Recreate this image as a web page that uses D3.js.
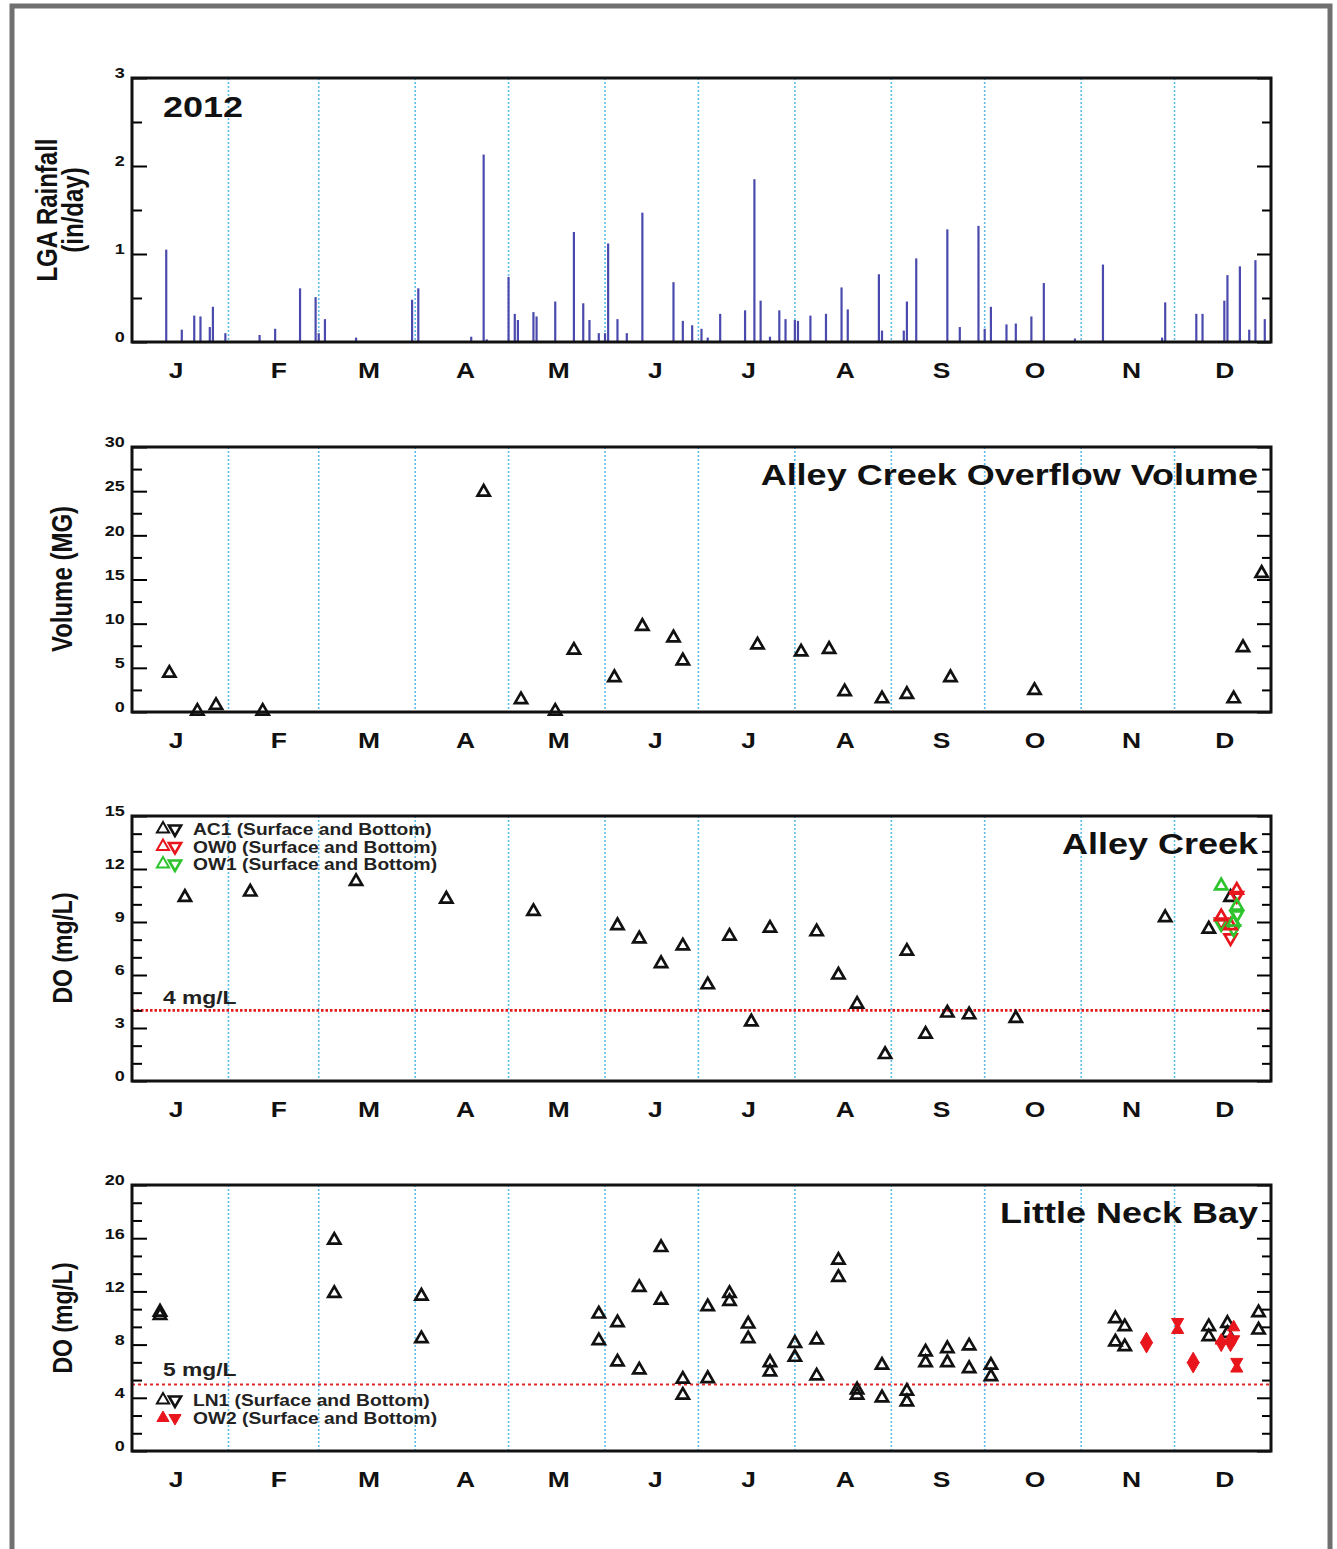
<!DOCTYPE html>
<html>
<head>
<meta charset="utf-8">
<script src="https://cdn.jsdelivr.net/npm/d3@7"></script>
<style>
body { margin: 0; background: #fff; }
text { font-family: "Liberation Sans", Arial, sans-serif; }
</style>
</head>
<body>
<div id="chart"></div>
<script>
// ---- data (day = day of year 2012, 0 = Jan 1) ----
const monthLetters = ["J", "F", "M", "A", "M", "J", "J", "A", "S", "O", "N", "D"]

const rainDay = [11, 16, 20, 22, 25, 26, 30, 41, 46, 54, 59, 60, 62, 72, 90, 92, 109, 113, 114,
  121, 123, 124, 129, 130, 136, 142, 145, 147, 150, 152, 153, 156, 159, 164, 174, 177, 180, 183,
  185, 189, 197, 200, 202, 205, 208, 210, 213, 214, 218, 223, 228, 230, 240, 241, 248, 249, 252,
  262, 266, 272, 274, 276, 281, 284, 289, 293, 303, 312, 331, 332, 342, 344, 351, 352, 356, 359,
  361, 364]
const rainInches = [1.05, 0.14, 0.30, 0.29, 0.17, 0.40, 0.10, 0.08, 0.15, 0.61, 0.51, 0.10, 0.26,
  0.05, 0.48, 0.61, 0.06, 2.13, 0.03, 0.74, 0.32, 0.25, 0.34, 0.29, 0.46, 1.25, 0.44, 0.25, 0.10,
  0.10, 1.12, 0.26, 0.10, 1.47, 0.68, 0.24, 0.19, 0.15, 0.05, 0.32, 0.36, 1.85, 0.47, 0.06, 0.36,
  0.26, 0.25, 0.24, 0.30, 0.32, 0.62, 0.37, 0.77, 0.13, 0.13, 0.46, 0.95, 1.28, 0.17, 1.32, 0.15,
  0.40, 0.20, 0.21, 0.29, 0.67, 0.04, 0.88, 0.05, 0.45, 0.32, 0.32, 0.47, 0.76, 0.86, 0.14, 0.93,
  0.26]

const overflowDay = [12, 21, 27, 42, 113, 125, 136, 142, 155, 164, 174, 177, 201, 215, 224, 229,
  241, 249, 263, 290, 354, 357, 363]
const overflowMG = [4.4, 0.1, 0.75, 0.1, 24.9, 1.4, 0.1, 7.0, 3.9, 9.7, 8.4, 5.8, 7.6, 6.8, 7.1,
  2.3, 1.5, 2.0, 3.9, 2.45, 1.5, 7.3, 15.7]

const ac1Day = [17, 38, 72, 101, 129, 156, 163, 170, 177, 185, 192, 199, 205, 220, 227, 233, 242,
  249, 255, 262, 269, 284, 332, 346, 353]
const ac1DO = [10.4, 10.7, 11.3, 10.3, 9.6, 8.8, 8.05, 6.65, 7.65, 5.45, 8.2, 3.35, 8.65, 8.45,
  6.0, 4.35, 1.5, 7.35, 2.65, 3.85, 3.75, 3.55, 9.25, 8.6, 10.4]

const ow0Day = [350, 353, 355]
const ow0Surface = [9.3, 8.8, 10.8]
const ow0Bottom = [9.0, 8.1, 10.5]
const ow1Day = [350, 354, 355]
const ow1Surface = [11.05, 9.0, 9.9]
const ow1Bottom = [8.9, 8.6, 9.4]

const ln1Day = [9, 65, 93, 150, 156, 163, 170, 177, 185, 192, 198, 205, 213, 220, 227, 233, 241,
  249, 255, 262, 269, 276, 316, 319, 346, 352, 362]
const ln1Surface = [10.45, 15.85, 11.65, 10.3, 9.65, 12.3, 15.3, 5.4, 10.85, 11.85, 9.55, 6.65,
  8.1, 8.35, 14.35, 4.6, 6.45, 4.5, 7.45, 7.7, 7.9, 6.45, 9.95, 9.35, 9.35, 9.6, 10.4]
const ln1Bottom = [10.2, 11.85, 8.45, 8.3, 6.7, 6.1, 11.35, 4.2, 5.45, 11.25, 8.45, 5.95, 7.05,
  5.65, 13.05, 4.2, 4.0, 3.7, 6.65, 6.65, 6.2, 5.6, 8.2, 7.85, 8.6, 8.85, 9.1]

const ow2Day = [326, 336, 341, 350, 353, 354, 355]
const ow2Surface = [8.4, 9.1, 6.9, 8.3, 8.5, 9.3, 6.2]
const ow2Bottom = [7.9, 9.7, 6.4, 8.0, 8.0, 8.4, 6.7]

const rainTicks = [0, 1, 2, 3]
const volumeTicks = [0, 5, 10, 15, 20, 25, 30]
const acTicks = [0, 3, 6, 9, 12, 15]
const lnbTicks = [0, 4, 8, 12, 16, 20]

const acLegendLabels = ["AC1 (Surface and Bottom)", "OW0 (Surface and Bottom)", "OW1 (Surface and Bottom)"]
const acLegendColors = ["#111", "#e8161c", "#2ec42e"]
const lnbLegendLabels = ["LN1 (Surface and Bottom)", "OW2 (Surface and Bottom)"]
const lnbLegendColors = ["#111", "#e8161c"]

// ---- layout ----
const width = 1337
const height = 1549
const plotLeft = 132
const plotRight = 1271
const stretch = "scale(1.2,1)"

const svg = d3.select("#chart")
  .append("svg")
    .attr("width", width)
    .attr("height", height)

svg.append("rect")
  .attr("x", 12).attr("y", 6)
  .attr("width", 1318).attr("height", 1600)
  .attr("fill", "none").attr("stroke", "#707070").attr("stroke-width", 5)

const yearStart = new Date(2012, 0, 1)
const yearEnd = new Date(2013, 0, 1)
const day = d => d3.timeDay.offset(yearStart, d)
const x = d3.scaleTime().domain([yearStart, yearEnd]).range([plotLeft, plotRight])
const monthStarts = d3.timeMonth.range(yearStart, yearEnd)
// label sits near the middle of each month
const monthMids = monthStarts.map((m, i) => d3.timeHour.offset(m, i === 0 ? 14 * 24 : 16 * 24))

function makePanel(top, bottom, max, ticks, minorStep, title) {
  const y = d3.scaleLinear().domain([0, max]).range([bottom, top])
  const grid = svg.append("g")
  const marks = svg.append("g")
  const axes = svg.append("g")

  grid.selectAll("line").data(monthStarts.slice(1)).join("line")
    .attr("x1", d => x(d)).attr("x2", d => x(d))
    .attr("y1", top).attr("y2", bottom)
    .attr("stroke", "#5fbde9").attr("stroke-width", 1.6).attr("stroke-dasharray", "2,2")

  const minor = d3.range(0, max + 0.001, minorStep).filter(v => !ticks.some(t => Math.abs(t - v) < 1e-6))

  const styleAxis = g => {
    g.select(".domain").remove()
    g.selectAll("line").attr("stroke", "#000").attr("stroke-width", 2)
  }
  axes.append("g").attr("transform", `translate(${plotLeft},0)`)
    .call(d3.axisLeft(y).tickValues(minor).tickSize(-10).tickFormat(""))
    .call(styleAxis)
  axes.append("g").attr("transform", `translate(${plotRight},0)`)
    .call(d3.axisRight(y).tickValues(minor).tickSize(-9).tickFormat(""))
    .call(styleAxis)
  axes.append("g").attr("transform", `translate(${plotRight},0)`)
    .call(d3.axisRight(y).tickValues(ticks).tickSize(-14).tickFormat(""))
    .call(styleAxis)
  axes.append("g").attr("transform", `translate(${plotLeft},0)`)
    .call(d3.axisLeft(y).tickValues(ticks).tickSize(-15).tickPadding(6).tickFormat(d3.format("d")))
    .call(styleAxis)
    .call(g => g.selectAll("text")
      .attr("font-family", "Liberation Sans, Arial, sans-serif")
      .attr("font-size", 15).attr("font-weight", "bold").attr("fill", "#111")
      .attr("transform", "translate(0,-5) " + stretch))

  axes.append("rect")
    .attr("x", plotLeft).attr("y", top)
    .attr("width", plotRight - plotLeft).attr("height", bottom - top)
    .attr("fill", "none").attr("stroke", "#111").attr("stroke-width", 3)

  axes.append("g").attr("transform", `translate(0,${bottom})`)
    .call(d3.axisBottom(x).tickValues(monthMids).tickSize(0).tickFormat((d, i) => monthLetters[i]))
    .call(g => g.select(".domain").remove())
    .call(g => g.selectAll("text")
      .attr("y", 36).attr("dy", null)
      .attr("font-family", "Liberation Sans, Arial, sans-serif")
      .attr("font-size", 22).attr("font-weight", "bold").attr("fill", "#111")
      .attr("transform", stretch))

  if (title) {
    axes.append("text")
      .attr("transform", `translate(1258,${top + 38}) ${stretch}`)
      .attr("text-anchor", "end")
      .attr("font-size", 30).attr("font-weight", "bold").attr("fill", "#111")
      .text(title)
  }
  return { y, marks, axes, top, bottom }
}

function yTitle(lines, xs, cy, size) {
  lines.forEach((t, i) => {
    svg.append("text")
      .attr("transform", `translate(${xs[i]},${cy}) ${stretch} rotate(-90)`)
      .attr("text-anchor", "middle").attr("dominant-baseline", "central")
      .attr("font-size", size).attr("font-weight", "bold").attr("fill", "#111")
      .text(t)
  })
}

const tri = d3.symbol().type(d3.symbolTriangle).size(64)

function triangles(layer, y, days, values, color, filled, down) {
  layer.append("g").selectAll("path").data(days).join("path")
    .attr("d", tri)
    .attr("transform", (d, i) => `translate(${x(day(d))},${y(values[i])})` + (down ? " rotate(180)" : ""))
    .attr("fill", filled ? color : "none")
    .attr("stroke", color).attr("stroke-width", filled ? 1 : 2.7)
}

function legend(layer, labels, colors, x0, y0, gap, filled) {
  labels.forEach((t, i) => {
    const yy = y0 + i * gap
    layer.append("path").attr("d", tri)
      .attr("transform", `translate(${x0},${yy})`)
      .attr("fill", filled[i] ? colors[i] : "none").attr("stroke", colors[i]).attr("stroke-width", filled[i] ? 1 : 2)
    layer.append("path").attr("d", tri)
      .attr("transform", `translate(${x0 + 12},${yy}) rotate(180)`)
      .attr("fill", filled[i] ? colors[i] : "none").attr("stroke", colors[i]).attr("stroke-width", filled[i] ? 1 : 2.6)
    layer.append("text")
      .attr("transform", `translate(${x0 + 30},${yy + 6}) ${stretch}`)
      .attr("font-size", 16).attr("font-weight", "bold").attr("fill", "#222")
      .text(t)
  })
}

// ---- panel 1: rainfall ----
const p1 = makePanel(78, 342, 3, rainTicks, 0.5, null)
p1.marks.selectAll("line").data(rainDay).join("line")
  .attr("x1", d => x(day(d))).attr("x2", d => x(day(d)))
  .attr("y1", p1.y(0)).attr("y2", (d, i) => p1.y(rainInches[i]))
  .attr("stroke", "#4a4aae").attr("stroke-width", 2.2)
p1.axes.append("text")
  .attr("transform", `translate(163,117) ${stretch}`)
  .attr("font-size", 30).attr("font-weight", "bold").attr("fill", "#111")
  .text("2012")
yTitle(["LGA Rainfall", "(in/day)"], [47, 73], 210, 24)

// ---- panel 2: overflow volume ----
const p2 = makePanel(447, 712, 30, volumeTicks, 2.5, "Alley Creek Overflow Volume")
triangles(p2.marks, p2.y, overflowDay, overflowMG, "#111", false, false)
yTitle(["Volume (MG)"], [62], 579, 24)

// ---- panel 3: Alley Creek DO ----
const p3 = makePanel(816, 1081, 15, acTicks, 1, "Alley Creek")
p3.marks.append("line")
  .attr("x1", plotLeft).attr("x2", plotRight)
  .attr("y1", p3.y(4)).attr("y2", p3.y(4))
  .attr("stroke", "#e41a1c").attr("stroke-width", 2.8).attr("stroke-dasharray", "2.5,2")
p3.marks.append("text")
  .attr("transform", `translate(163,${p3.y(4) - 6}) ${stretch}`)
  .attr("font-size", 19).attr("font-weight", "bold").attr("fill", "#222")
  .text("4 mg/L")
triangles(p3.marks, p3.y, ac1Day, ac1DO, "#111", false, false)
triangles(p3.marks, p3.y, ow0Day, ow0Bottom, acLegendColors[1], false, true)
triangles(p3.marks, p3.y, ow1Day, ow1Bottom, acLegendColors[2], false, true)
triangles(p3.marks, p3.y, ow0Day, ow0Surface, acLegendColors[1], false, false)
triangles(p3.marks, p3.y, ow1Day, ow1Surface, acLegendColors[2], false, false)
legend(p3.axes, acLegendLabels, acLegendColors, 163, 829, 17.5, [false, false, false])
yTitle(["DO (mg/L)"], [62], 948, 23)

// ---- panel 4: Little Neck Bay DO ----
const p4 = makePanel(1185, 1451, 20, lnbTicks, 4 / 3, "Little Neck Bay")
p4.marks.append("line")
  .attr("x1", plotLeft).attr("x2", plotRight)
  .attr("y1", p4.y(5)).attr("y2", p4.y(5))
  .attr("stroke", "#e0262b").attr("stroke-width", 2).attr("stroke-dasharray", "3,3")
p4.marks.append("text")
  .attr("transform", `translate(163,${p4.y(5) - 9}) ${stretch}`)
  .attr("font-size", 19).attr("font-weight", "bold").attr("fill", "#222")
  .text("5 mg/L")
triangles(p4.marks, p4.y, ln1Day, ln1Surface, "#111", false, false)
triangles(p4.marks, p4.y, ln1Day, ln1Bottom, "#111", false, false)
triangles(p4.marks, p4.y, ow2Day, ow2Surface, lnbLegendColors[1], true, false)
triangles(p4.marks, p4.y, ow2Day, ow2Bottom, lnbLegendColors[1], true, true)
legend(p4.axes, lnbLegendLabels, lnbLegendColors, 163, 1400, 18, [false, true])
yTitle(["DO (mg/L)"], [62], 1318, 23)
</script>
</body>
</html>
